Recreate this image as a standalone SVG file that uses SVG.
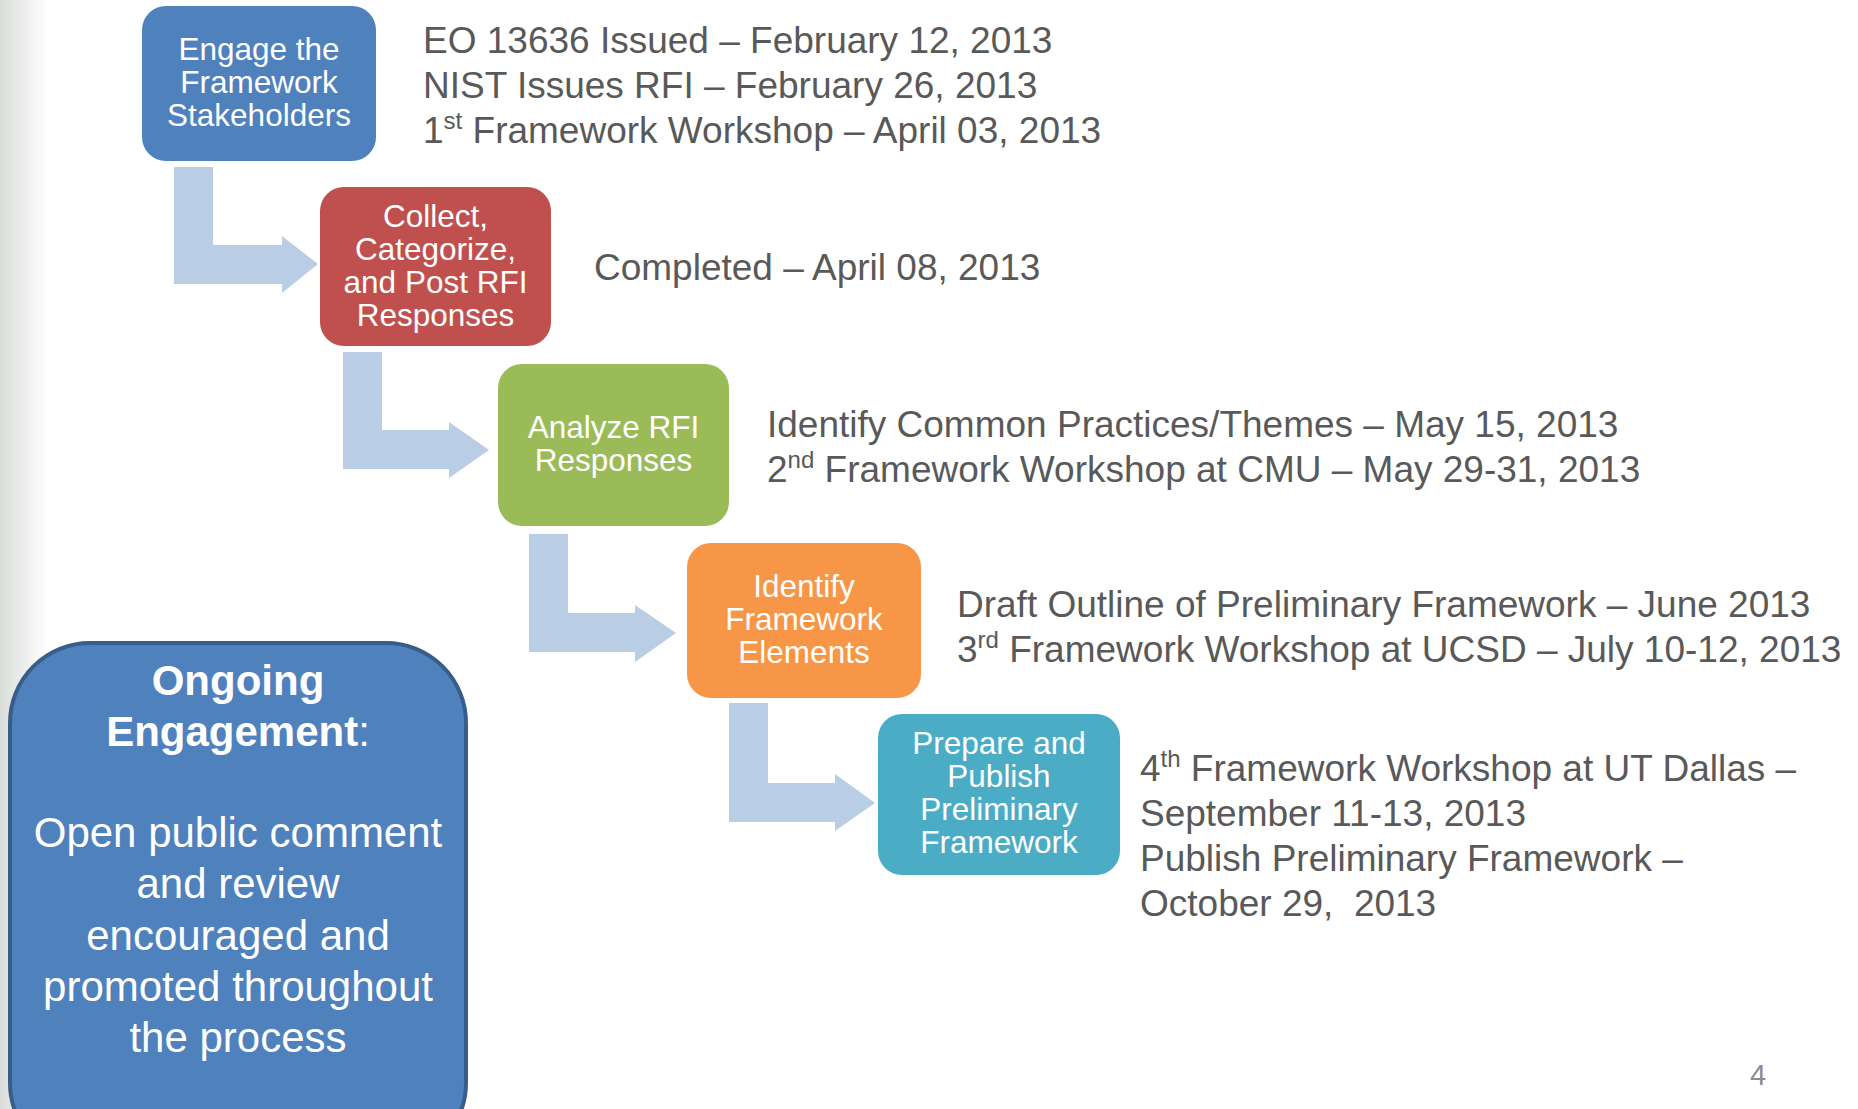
<svg xmlns="http://www.w3.org/2000/svg" width="1858" height="1109" viewBox="0 0 1858 1109">
<defs>
<linearGradient id="edge" x1="0" y1="0" x2="1" y2="0">
<stop offset="0" stop-color="#D9DDD9"/>
<stop offset="1" stop-color="#FFFFFF"/>
</linearGradient>
</defs>
<style>
.node text{font-family:"Liberation Sans",Arial,sans-serif;font-size:31.5px;fill:#FFFFFF;text-anchor:middle}
.note{font-family:"Liberation Sans",Arial,sans-serif;font-size:37px;fill:#595959}
.sup{font-size:24px}
.arrow{fill:#B9CDE5}
.big text{font-family:"Liberation Sans",Arial,sans-serif;font-size:42px;fill:#FFFFFF;text-anchor:middle}
</style>
<rect x="0" y="0" width="1858" height="1109" fill="#FFFFFF"/>
<rect x="0" y="0" width="48" height="1109" fill="url(#edge)"/>

<g id="connectors">
<polygon class="arrow" points="174,167 213,167 213,245 282,245 282,236 318,264 282,293 282,284 174,284"/>
<polygon class="arrow" points="343,352 382,352 382,430 449,430 449,422 489,450 449,478 449,469 343,469"/>
<polygon class="arrow" points="529,534 568,534 568,613 635,613 635,605 676,633 635,662 635,652 529,652"/>
<polygon class="arrow" points="729,703 768,703 768,783 835,783 835,774 875,803 835,831 835,822 729,822"/>
</g>

<g id="n1" class="node">
<rect x="142" y="6" width="234" height="155" rx="24" fill="#4F81BD"/>
<text x="259" y="60">Engage the</text>
<text x="259" y="93">Framework</text>
<text x="259" y="126">Stakeholders</text>
</g>
<g id="n2" class="node">
<rect x="320" y="187" width="231" height="159" rx="24" fill="#C0504D"/>
<text x="435.5" y="227">Collect,</text>
<text x="435.5" y="260">Categorize,</text>
<text x="435.5" y="293">and Post RFI</text>
<text x="435.5" y="326">Responses</text>
</g>
<g id="n3" class="node">
<rect x="498" y="364" width="231" height="162" rx="24" fill="#9BBB59"/>
<text x="613.5" y="438">Analyze RFI</text>
<text x="613.5" y="471">Responses</text>
</g>
<g id="n4" class="node">
<rect x="687" y="543" width="234" height="155" rx="24" fill="#F79646"/>
<text x="804" y="597">Identify</text>
<text x="804" y="630">Framework</text>
<text x="804" y="663">Elements</text>
</g>
<g id="n5" class="node">
<rect x="878" y="714" width="242" height="161" rx="24" fill="#4BACC6"/>
<text x="999" y="754">Prepare and</text>
<text x="999" y="787">Publish</text>
<text x="999" y="820">Preliminary</text>
<text x="999" y="853">Framework</text>
</g>

<g id="t1">
<text class="note" x="423" y="53">EO 13636 Issued – February 12, 2013</text>
<text class="note" x="423" y="98">NIST Issues RFI – February 26, 2013</text>
<text class="note" x="423" y="143">1<tspan class="sup" dy="-14">st</tspan><tspan dy="14"> Framework Workshop – April 03, 2013</tspan></text>
</g>
<g id="t2">
<text class="note" x="594" y="280">Completed – April 08, 2013</text>
</g>
<g id="t3">
<text class="note" x="767" y="437">Identify Common Practices/Themes – May 15, 2013</text>
<text class="note" x="767" y="482">2<tspan class="sup" dy="-14">nd</tspan><tspan dy="14"> Framework Workshop at CMU – May 29-31, 2013</tspan></text>
</g>
<g id="t4">
<text class="note" x="957" y="617">Draft Outline of Preliminary Framework – June 2013</text>
<text class="note" x="957" y="662">3<tspan class="sup" dy="-14">rd</tspan><tspan dy="14"> Framework Workshop at UCSD – July 10-12, 2013</tspan></text>
</g>
<g id="t5">
<text class="note" x="1140" y="781">4<tspan class="sup" dy="-14">th</tspan><tspan dy="14"> Framework Workshop at UT Dallas –</tspan></text>
<text class="note" x="1140" y="826">September 11-13, 2013</text>
<text class="note" x="1140" y="871">Publish Preliminary Framework –</text>
<text class="note" x="1140" y="916" xml:space="preserve" style="white-space:pre">October 29,  2013</text>
</g>

<g id="ongoing" class="big">
<rect x="10" y="643" width="456" height="520" rx="80" fill="#4F81BD" stroke="#385D8A" stroke-width="4"/>
<text x="238" y="695" font-weight="bold">Ongoing</text>
<text x="238" y="746"><tspan font-weight="bold">Engagement</tspan>:</text>
<text x="238" y="847">Open public comment</text>
<text x="238" y="898">and review</text>
<text x="238" y="950">encouraged and</text>
<text x="238" y="1001">promoted throughout</text>
<text x="238" y="1052">the process</text>
</g>

<text x="1750" y="1085" font-family="Liberation Sans, Arial, sans-serif" font-size="29" fill="#8C8C8C">4</text>
</svg>
